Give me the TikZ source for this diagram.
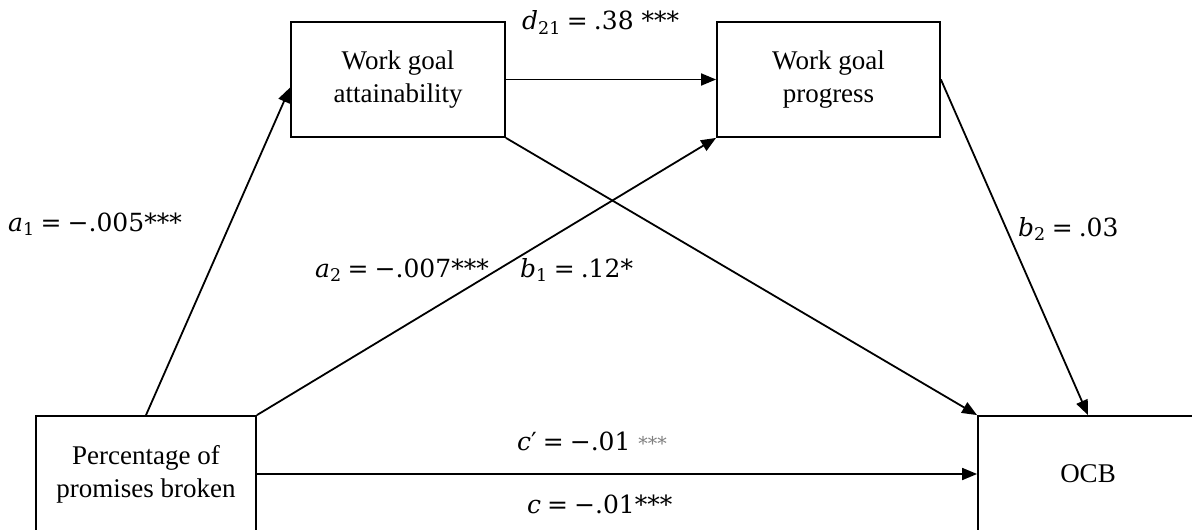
\documentclass[tikz,border=0pt]{standalone}
\usepackage{fontspec}
\setmainfont{Liberation Serif}
\newfontfamily\eqf{DejaVu Serif}
\usetikzlibrary{arrows.meta}
\newcommand{\vsub}[2]{{\itshape #1}\textsubscript{#2}}
\newcommand{\eqs}{\hspace{6pt}=\hspace{6pt}}
\begin{document}
\begin{tikzpicture}[x=1pt,y=-1pt,
  box/.style={draw,line width=1.8pt,rectangle,inner sep=0pt,align=center,
    font=\fontsize{27}{33}\selectfont},
  conn/.style={line width=1.8pt,-{Triangle[length=15pt,width=12pt]}},
  lab/.style={font=\eqf\fontsize{25}{30}\selectfont,inner sep=0pt,anchor=base west}]
\useasboundingbox (0,0) rectangle (1192,530);
\node[box,minimum width=214pt,minimum height=115pt] (wga) at (398,79.5) {Work goal\\attainability};
\node[box,minimum width=223pt,minimum height=115pt] (wgp) at (828.5,79.5) {Work goal\\progress};
\node[box,minimum width=220pt,minimum height=116pt] (perc) at (146,474) {Percentage of\\promises broken};
\node[box,minimum width=220pt,minimum height=116pt] (ocb) at (1088,474) {OCB};
\draw[conn] (perc.north) -- ([yshift=-8pt]wga.west);
\draw[conn] (perc.north east) -- (wgp.south west);
\draw[conn] (wga.east) -- (wgp.west);
\draw[conn] (wga.south east) -- (ocb.north west);
\draw[conn] (wgp.east) -- (ocb.north);
\draw[conn] (perc.east) -- (ocb.west);
\node[lab] (la1) at (8,231) {\vsub{a}{1}\eqs−.005***};
\node[lab] (ld) at (522,30) {\vsub{d}{21}\eqs.38 ***};
\node[lab] (la2) at (315,277) {\vsub{a}{2}\eqs−.007***};
\node[lab] (lb1) at (520,277) {\vsub{b}{1}\eqs.12*};
\node[lab] (lb2) at (1018,236) {\vsub{b}{2}\eqs.03};
\node[lab] (lcp) at (517,450) {{\itshape c}′\eqs−.01 {\color{gray}\fontsize{19}{24}\selectfont ***}};
\node[lab] (lc) at (527,513) {{\itshape c}\eqs−.01***};
\end{tikzpicture}
\end{document}
